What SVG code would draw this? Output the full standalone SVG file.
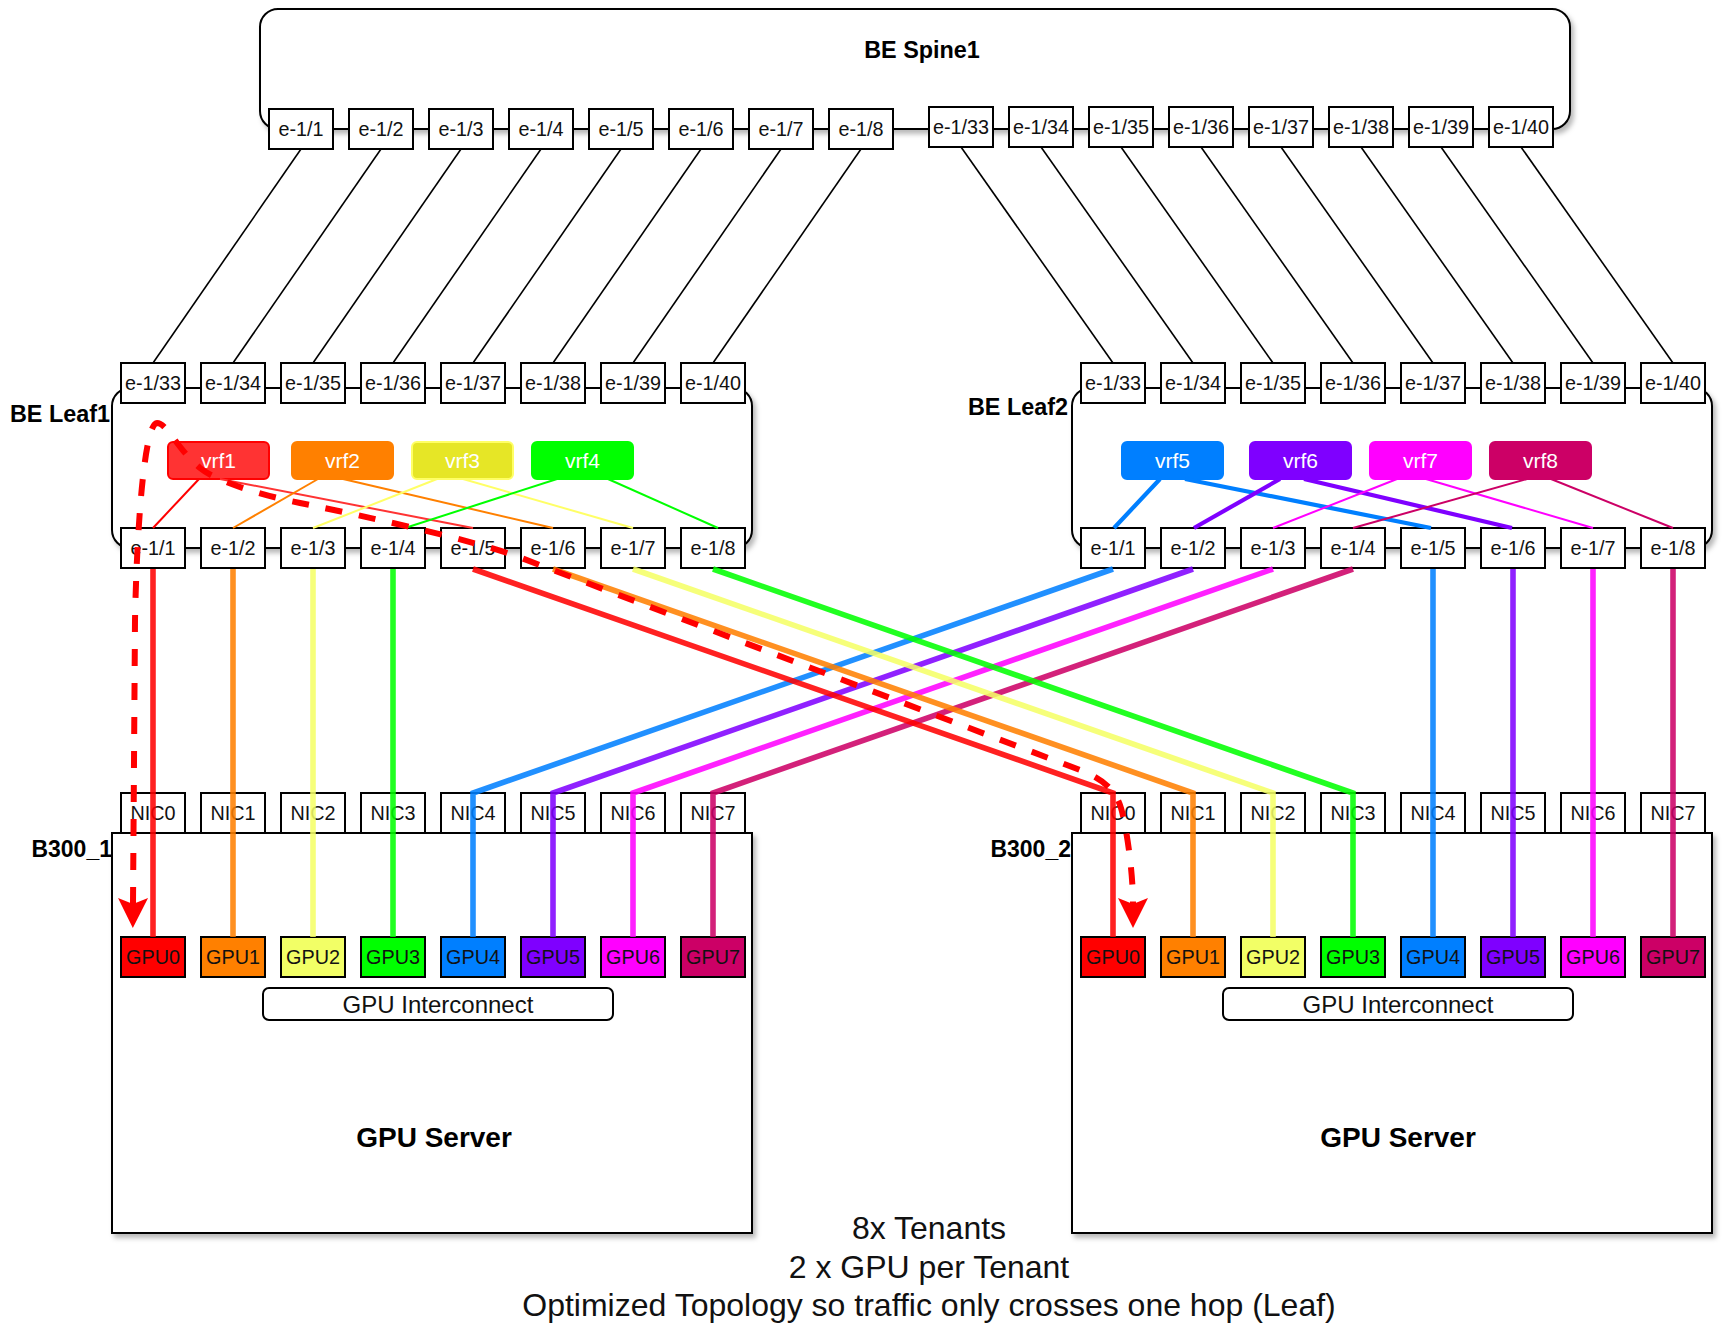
<svg xmlns="http://www.w3.org/2000/svg" width="1726" height="1324" viewBox="0 0 1726 1324">
<defs>
<style>
text{font-family:"Liberation Sans",Arial,Helvetica,sans-serif;}
.box{fill:#fff;stroke:#000;stroke-width:2;}
.port{fill:#fff;stroke:#000;stroke-width:2;}
.pt{font-size:19.8px;text-anchor:middle;fill:#111;}
.bold{font-weight:bold;fill:#000;}
.vt{font-size:21px;text-anchor:middle;fill:#fff;}
.gt{font-size:19.8px;text-anchor:middle;fill:#111;}
.sl{fill:none;stroke:#000;stroke-width:1.6;}
.th{fill:none;stroke-width:5.6;stroke-opacity:0.87;stroke-linejoin:miter;}
.tn{fill:none;stroke-width:2;}
.tk{fill:none;stroke-width:4.2;}
.dash{fill:none;stroke:#FF0000;stroke-width:6;stroke-dasharray:17 17;}
</style>
<filter id="sh" x="-5%" y="-10%" width="115%" height="125%">
<feDropShadow dx="3" dy="4" stdDeviation="2.5" flood-color="#000" flood-opacity="0.28"/>
</filter>
<marker id="arr" markerUnits="userSpaceOnUse" markerWidth="40" markerHeight="40" refX="0" refY="0" orient="auto-start-reverse" overflow="visible">
<path d="M24,0 L-6,-15 L0,0 L-6,15 Z" fill="#FF0000" stroke="none"/>
</marker>
</defs>
<rect width="1726" height="1324" fill="#fff"/>

<g id="spine">
<rect class="box" x="260" y="9" width="1310" height="120" rx="18" filter="url(#sh)"/>
<text class="bold" x="922" y="58" font-size="23.4" text-anchor="middle">BE Spine1</text>
<g id="spine-ports">
<rect class="port" x="269" y="109" width="64" height="40"/><text class="pt" x="301" y="136">e-1/1</text>
<rect class="port" x="349" y="109" width="64" height="40"/><text class="pt" x="381" y="136">e-1/2</text>
<rect class="port" x="429" y="109" width="64" height="40"/><text class="pt" x="461" y="136">e-1/3</text>
<rect class="port" x="509" y="109" width="64" height="40"/><text class="pt" x="541" y="136">e-1/4</text>
<rect class="port" x="589" y="109" width="64" height="40"/><text class="pt" x="621" y="136">e-1/5</text>
<rect class="port" x="669" y="109" width="64" height="40"/><text class="pt" x="701" y="136">e-1/6</text>
<rect class="port" x="749" y="109" width="64" height="40"/><text class="pt" x="781" y="136">e-1/7</text>
<rect class="port" x="829" y="109" width="64" height="40"/><text class="pt" x="861" y="136">e-1/8</text>
<rect class="port" x="929" y="107" width="64" height="40"/><text class="pt" x="961" y="134">e-1/33</text>
<rect class="port" x="1009" y="107" width="64" height="40"/><text class="pt" x="1041" y="134">e-1/34</text>
<rect class="port" x="1089" y="107" width="64" height="40"/><text class="pt" x="1121" y="134">e-1/35</text>
<rect class="port" x="1169" y="107" width="64" height="40"/><text class="pt" x="1201" y="134">e-1/36</text>
<rect class="port" x="1249" y="107" width="64" height="40"/><text class="pt" x="1281" y="134">e-1/37</text>
<rect class="port" x="1329" y="107" width="64" height="40"/><text class="pt" x="1361" y="134">e-1/38</text>
<rect class="port" x="1409" y="107" width="64" height="40"/><text class="pt" x="1441" y="134">e-1/39</text>
<rect class="port" x="1489" y="107" width="64" height="40"/><text class="pt" x="1521" y="134">e-1/40</text>
</g>
</g>

<g id="leaf1">
<rect class="box" x="112" y="388" width="640" height="160" rx="18" filter="url(#sh)"/>
<text class="bold" x="110" y="422" font-size="23.4" text-anchor="end">BE Leaf1</text>
<rect x="168" y="442" width="101" height="37" rx="5" fill="#FF3333" stroke="#FF0000" stroke-width="2"/><text class="vt" x="218.5" y="468">vrf1</text>
<rect x="292" y="442" width="101" height="37" rx="5" fill="#FF8000" stroke="#FF8000" stroke-width="2"/><text class="vt" x="342.5" y="468">vrf2</text>
<rect x="412" y="442" width="101" height="37" rx="5" fill="#E6E626" stroke="#FFFF66" stroke-width="2"/><text class="vt" x="462.5" y="468">vrf3</text>
<rect x="532" y="442" width="101" height="37" rx="5" fill="#00FF00" stroke="#00FF00" stroke-width="2"/><text class="vt" x="582.5" y="468">vrf4</text>
<rect class="port" x="121" y="363" width="64" height="40"/><text class="pt" x="153" y="390">e-1/33</text>
<rect class="port" x="201" y="363" width="64" height="40"/><text class="pt" x="233" y="390">e-1/34</text>
<rect class="port" x="281" y="363" width="64" height="40"/><text class="pt" x="313" y="390">e-1/35</text>
<rect class="port" x="361" y="363" width="64" height="40"/><text class="pt" x="393" y="390">e-1/36</text>
<rect class="port" x="441" y="363" width="64" height="40"/><text class="pt" x="473" y="390">e-1/37</text>
<rect class="port" x="521" y="363" width="64" height="40"/><text class="pt" x="553" y="390">e-1/38</text>
<rect class="port" x="601" y="363" width="64" height="40"/><text class="pt" x="633" y="390">e-1/39</text>
<rect class="port" x="681" y="363" width="64" height="40"/><text class="pt" x="713" y="390">e-1/40</text>
<rect class="port" x="121" y="528" width="64" height="40"/><text class="pt" x="153" y="555">e-1/1</text>
<rect class="port" x="201" y="528" width="64" height="40"/><text class="pt" x="233" y="555">e-1/2</text>
<rect class="port" x="281" y="528" width="64" height="40"/><text class="pt" x="313" y="555">e-1/3</text>
<rect class="port" x="361" y="528" width="64" height="40"/><text class="pt" x="393" y="555">e-1/4</text>
<rect class="port" x="441" y="528" width="64" height="40"/><text class="pt" x="473" y="555">e-1/5</text>
<rect class="port" x="521" y="528" width="64" height="40"/><text class="pt" x="553" y="555">e-1/6</text>
<rect class="port" x="601" y="528" width="64" height="40"/><text class="pt" x="633" y="555">e-1/7</text>
<rect class="port" x="681" y="528" width="64" height="40"/><text class="pt" x="713" y="555">e-1/8</text>
</g>

<g id="leaf2">
<rect class="box" x="1072" y="388" width="640" height="160" rx="18" filter="url(#sh)"/>
<text class="bold" x="1068" y="415" font-size="23.4" text-anchor="end">BE Leaf2</text>
<rect x="1122" y="442" width="101" height="37" rx="5" fill="#007FFF" stroke="#007FFF" stroke-width="2"/><text class="vt" x="1172.5" y="468">vrf5</text>
<rect x="1250" y="442" width="101" height="37" rx="5" fill="#7F00FF" stroke="#7F00FF" stroke-width="2"/><text class="vt" x="1300.5" y="468">vrf6</text>
<rect x="1370" y="442" width="101" height="37" rx="5" fill="#FF00FF" stroke="#FF00FF" stroke-width="2"/><text class="vt" x="1420.5" y="468">vrf7</text>
<rect x="1490" y="442" width="101" height="37" rx="5" fill="#CC0066" stroke="#CC0066" stroke-width="2"/><text class="vt" x="1540.5" y="468">vrf8</text>
<rect class="port" x="1081" y="363" width="64" height="40"/><text class="pt" x="1113" y="390">e-1/33</text>
<rect class="port" x="1161" y="363" width="64" height="40"/><text class="pt" x="1193" y="390">e-1/34</text>
<rect class="port" x="1241" y="363" width="64" height="40"/><text class="pt" x="1273" y="390">e-1/35</text>
<rect class="port" x="1321" y="363" width="64" height="40"/><text class="pt" x="1353" y="390">e-1/36</text>
<rect class="port" x="1401" y="363" width="64" height="40"/><text class="pt" x="1433" y="390">e-1/37</text>
<rect class="port" x="1481" y="363" width="64" height="40"/><text class="pt" x="1513" y="390">e-1/38</text>
<rect class="port" x="1561" y="363" width="64" height="40"/><text class="pt" x="1593" y="390">e-1/39</text>
<rect class="port" x="1641" y="363" width="64" height="40"/><text class="pt" x="1673" y="390">e-1/40</text>
<rect class="port" x="1081" y="528" width="64" height="40"/><text class="pt" x="1113" y="555">e-1/1</text>
<rect class="port" x="1161" y="528" width="64" height="40"/><text class="pt" x="1193" y="555">e-1/2</text>
<rect class="port" x="1241" y="528" width="64" height="40"/><text class="pt" x="1273" y="555">e-1/3</text>
<rect class="port" x="1321" y="528" width="64" height="40"/><text class="pt" x="1353" y="555">e-1/4</text>
<rect class="port" x="1401" y="528" width="64" height="40"/><text class="pt" x="1433" y="555">e-1/5</text>
<rect class="port" x="1481" y="528" width="64" height="40"/><text class="pt" x="1513" y="555">e-1/6</text>
<rect class="port" x="1561" y="528" width="64" height="40"/><text class="pt" x="1593" y="555">e-1/7</text>
<rect class="port" x="1641" y="528" width="64" height="40"/><text class="pt" x="1673" y="555">e-1/8</text>
</g>

<g id="b300_1">
<rect class="box" x="112" y="833" width="640" height="400" filter="url(#sh)"/>
<text class="bold" x="112" y="857" font-size="23" text-anchor="end">B300_1</text>
<rect class="port" x="121" y="793" width="64" height="40"/><text class="pt" x="153" y="820">NIC0</text>
<rect class="port" x="201" y="793" width="64" height="40"/><text class="pt" x="233" y="820">NIC1</text>
<rect class="port" x="281" y="793" width="64" height="40"/><text class="pt" x="313" y="820">NIC2</text>
<rect class="port" x="361" y="793" width="64" height="40"/><text class="pt" x="393" y="820">NIC3</text>
<rect class="port" x="441" y="793" width="64" height="40"/><text class="pt" x="473" y="820">NIC4</text>
<rect class="port" x="521" y="793" width="64" height="40"/><text class="pt" x="553" y="820">NIC5</text>
<rect class="port" x="601" y="793" width="64" height="40"/><text class="pt" x="633" y="820">NIC6</text>
<rect class="port" x="681" y="793" width="64" height="40"/><text class="pt" x="713" y="820">NIC7</text>
<rect class="port" x="121" y="937" width="64" height="40" style="fill:#FF0000"/><text class="gt" x="153" y="964">GPU0</text>
<rect class="port" x="201" y="937" width="64" height="40" style="fill:#FF8000"/><text class="gt" x="233" y="964">GPU1</text>
<rect class="port" x="281" y="937" width="64" height="40" style="fill:#F2FF66"/><text class="gt" x="313" y="964">GPU2</text>
<rect class="port" x="361" y="937" width="64" height="40" style="fill:#00FF00"/><text class="gt" x="393" y="964">GPU3</text>
<rect class="port" x="441" y="937" width="64" height="40" style="fill:#007FFF"/><text class="gt" x="473" y="964">GPU4</text>
<rect class="port" x="521" y="937" width="64" height="40" style="fill:#7F00FF"/><text class="gt" x="553" y="964">GPU5</text>
<rect class="port" x="601" y="937" width="64" height="40" style="fill:#FF00FF"/><text class="gt" x="633" y="964">GPU6</text>
<rect class="port" x="681" y="937" width="64" height="40" style="fill:#CC0066"/><text class="gt" x="713" y="964">GPU7</text>
<rect class="box" x="263" y="988" width="350" height="32" rx="6"/>
<text x="438" y="1012.5" font-size="24" text-anchor="middle" fill="#111">GPU Interconnect</text>
<text class="bold" x="434" y="1147" font-size="28" text-anchor="middle">GPU Server</text>
</g>

<g id="b300_2">
<rect class="box" x="1072" y="833" width="640" height="400" filter="url(#sh)"/>
<text class="bold" x="1071" y="857" font-size="23" text-anchor="end">B300_2</text>
<rect class="port" x="1081" y="793" width="64" height="40"/><text class="pt" x="1113" y="820">NIC0</text>
<rect class="port" x="1161" y="793" width="64" height="40"/><text class="pt" x="1193" y="820">NIC1</text>
<rect class="port" x="1241" y="793" width="64" height="40"/><text class="pt" x="1273" y="820">NIC2</text>
<rect class="port" x="1321" y="793" width="64" height="40"/><text class="pt" x="1353" y="820">NIC3</text>
<rect class="port" x="1401" y="793" width="64" height="40"/><text class="pt" x="1433" y="820">NIC4</text>
<rect class="port" x="1481" y="793" width="64" height="40"/><text class="pt" x="1513" y="820">NIC5</text>
<rect class="port" x="1561" y="793" width="64" height="40"/><text class="pt" x="1593" y="820">NIC6</text>
<rect class="port" x="1641" y="793" width="64" height="40"/><text class="pt" x="1673" y="820">NIC7</text>
<rect class="port" x="1081" y="937" width="64" height="40" style="fill:#FF0000"/><text class="gt" x="1113" y="964">GPU0</text>
<rect class="port" x="1161" y="937" width="64" height="40" style="fill:#FF8000"/><text class="gt" x="1193" y="964">GPU1</text>
<rect class="port" x="1241" y="937" width="64" height="40" style="fill:#F2FF66"/><text class="gt" x="1273" y="964">GPU2</text>
<rect class="port" x="1321" y="937" width="64" height="40" style="fill:#00FF00"/><text class="gt" x="1353" y="964">GPU3</text>
<rect class="port" x="1401" y="937" width="64" height="40" style="fill:#007FFF"/><text class="gt" x="1433" y="964">GPU4</text>
<rect class="port" x="1481" y="937" width="64" height="40" style="fill:#7F00FF"/><text class="gt" x="1513" y="964">GPU5</text>
<rect class="port" x="1561" y="937" width="64" height="40" style="fill:#FF00FF"/><text class="gt" x="1593" y="964">GPU6</text>
<rect class="port" x="1641" y="937" width="64" height="40" style="fill:#CC0066"/><text class="gt" x="1673" y="964">GPU7</text>
<rect class="box" x="1223" y="988" width="350" height="32" rx="6"/>
<text x="1398" y="1012.5" font-size="24" text-anchor="middle" fill="#111">GPU Interconnect</text>
<text class="bold" x="1398" y="1147" font-size="28" text-anchor="middle">GPU Server</text>
</g>

<g id="notes">
<text x="929" y="1239" font-size="32" text-anchor="middle" fill="#111">8x Tenants</text>
<text x="929" y="1278" font-size="32" text-anchor="middle" fill="#111">2 x GPU per Tenant</text>
<text x="929" y="1316" font-size="32" text-anchor="middle" fill="#111">Optimized Topology so traffic only crosses one hop (Leaf)</text>
</g>

<g id="connectors">
<g id="spine-leaf">
<line class="sl" x1="301" y1="149" x2="153" y2="363"/>
<line class="sl" x1="381" y1="149" x2="233" y2="363"/>
<line class="sl" x1="461" y1="149" x2="313" y2="363"/>
<line class="sl" x1="541" y1="149" x2="393" y2="363"/>
<line class="sl" x1="621" y1="149" x2="473" y2="363"/>
<line class="sl" x1="701" y1="149" x2="553" y2="363"/>
<line class="sl" x1="781" y1="149" x2="633" y2="363"/>
<line class="sl" x1="861" y1="149" x2="713" y2="363"/>
<line class="sl" x1="961" y1="147" x2="1113" y2="363"/>
<line class="sl" x1="1041" y1="147" x2="1193" y2="363"/>
<line class="sl" x1="1121" y1="147" x2="1273" y2="363"/>
<line class="sl" x1="1201" y1="147" x2="1353" y2="363"/>
<line class="sl" x1="1281" y1="147" x2="1433" y2="363"/>
<line class="sl" x1="1361" y1="147" x2="1513" y2="363"/>
<line class="sl" x1="1441" y1="147" x2="1593" y2="363"/>
<line class="sl" x1="1521" y1="147" x2="1673" y2="363"/>
</g>
<g id="vrf-links">
<line class="tn" stroke="#FF0000" x1="199" y1="479" x2="153" y2="528"/>
<line class="tn" stroke="#FF3333" x1="220" y1="479" x2="473" y2="528"/>
<line class="tn" stroke="#FF8000" x1="318" y1="479" x2="233" y2="528"/>
<line class="tn" stroke="#FF8000" x1="343" y1="479" x2="553" y2="528"/>
<line class="tn" stroke="#FFFF66" x1="437" y1="479" x2="313" y2="528"/>
<line class="tn" stroke="#FFFF66" x1="463" y1="479" x2="633" y2="528"/>
<line class="tn" stroke="#00FF00" x1="557" y1="479" x2="405" y2="528"/>
<line class="tn" stroke="#00FF00" x1="608" y1="479" x2="718" y2="528"/>
<line class="tk" stroke="#007FFF" x1="1160" y1="479" x2="1114" y2="528"/>
<line class="tk" stroke="#007FFF" x1="1185" y1="479" x2="1431" y2="528"/>
<line class="tk" stroke="#7F00FF" x1="1280" y1="479" x2="1194" y2="528"/>
<line class="tk" stroke="#7F00FF" x1="1304" y1="479" x2="1512" y2="528"/>
<line class="tn" stroke="#FF00FF" x1="1397" y1="479" x2="1273" y2="528"/>
<line class="tn" stroke="#FF00FF" x1="1426" y1="479" x2="1593" y2="528"/>
<line class="tn" stroke="#CC0066" x1="1527" y1="479" x2="1353" y2="528"/>
<line class="tn" stroke="#CC0066" x1="1551" y1="479" x2="1673" y2="528"/>
</g>
<g id="server-links">
<polyline class="th" stroke="#007FFF" points="1113,569 473,793 473,937"/>
<polyline class="th" stroke="#7F00FF" points="1193,569 553,793 553,937"/>
<polyline class="th" stroke="#FF00FF" points="1273,569 633,793 633,937"/>
<polyline class="th" stroke="#CC0066" points="1353,569 713,793 713,937"/>
<polyline class="th" stroke="#007FFF" points="1433,569 1433,937"/>
<polyline class="th" stroke="#7F00FF" points="1513,569 1513,937"/>
<polyline class="th" stroke="#FF00FF" points="1593,569 1593,937"/>
<polyline class="th" stroke="#CC0066" points="1673,569 1673,937"/>
<polyline class="th" stroke="#FF0000" points="153,569 153,937"/>
<polyline class="th" stroke="#FF8000" points="233,569 233,937"/>
<polyline class="th" stroke="#F5FF66" points="313,569 313,937"/>
<polyline class="th" stroke="#00FF00" points="393,569 393,937"/>
<polyline class="th" stroke="#FF0000" points="473,569 1113,793 1113,937"/>
<polyline class="th" stroke="#FF8000" points="553,569 1193,793 1193,937"/>
<polyline class="th" stroke="#F5FF66" points="633,569 1273,793 1273,937"/>
<polyline class="th" stroke="#00FF00" points="713,569 1353,793 1353,937"/>
</g>
<path id="traffic" class="dash" marker-start="url(#arr)" marker-end="url(#arr)" d="M133,904 L135,620 C137,520 145,423 157,423 C167,423 178,450 200,468 C215,480.6 260,495 300,503 C340,511 470,538.5 520,557.5 L1080,770 C1100,777.6 1115,788 1121,808 C1126,825 1133,870 1133,904"/>
</g>
</svg>
